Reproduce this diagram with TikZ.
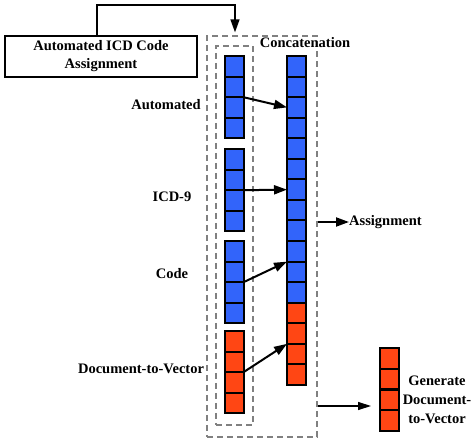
\documentclass[tikz,border=0pt]{standalone}
\usepackage{fontspec}
\setmainfont{Liberation Serif}
\usetikzlibrary{arrows.meta,calc}
\definecolor{cellblue}{RGB}{50,100,250}
\definecolor{cellorange}{RGB}{255,70,20}
\tikzset{
    cell/.style={
        draw=black,
        line width=2pt,
        minimum width=19pt,
        minimum height=20.6pt,
        inner sep=0pt,
        outer sep=0pt
    },
    bluecell/.style={cell, fill=cellblue},
    orangecell/.style={cell, fill=cellorange},
    dashbox/.style={
        draw=gray,
        line width=1.3pt,
        dash pattern=on 6pt off 4pt,
        inner sep=0pt
    },
    lbl/.style={
        font=\bfseries\fontsize{14.5}{17}\selectfont,
        inner sep=0pt,
        align=center
    },
    arr/.style={
        -{Triangle[length=13pt,width=9pt]},
        line width=2pt
    },
    thinarr/.style={
        -{Triangle[length=13pt,width=8pt]},
        line width=1.3pt
    }
}

\begin{document}
\begin{tikzpicture}[x=1pt,y=-1pt]
            \useasboundingbox (0,0) rectangle (474,443);
            % dashed frames
            \node[dashbox, minimum width=110pt, minimum height=401pt] (concat) at (262,236.5) {};
            \node[dashbox, minimum width=37pt, minimum height=379pt] (inner) at (234.5,235.5) {};
            \node[lbl] (cattext) at (305,43) {Concatenation};
            % top box
            \node[draw, line width=1.4pt, minimum width=192pt, minimum height=41pt,
                lbl, font=\bfseries\fontsize{14.5}{18}\selectfont] (topbox) at (101,56.5)
                {Automated ICD Code\\Assignment};
            \coordinate (fb) at (235,5);
            \draw[arr, line width=1.4pt, shorten >=3pt] ([xshift=-4pt]topbox.north) |- (fb) -- (fb |- concat.north);
            % word columns
            \foreach \col/\top/\sty in {a/56/bluecell, b/149/bluecell, c/241/bluecell, d/331/orangecell}{
                \foreach \i in {1,...,4}{
                    \node[\sty] (\col\i) at (234, \top+\i*20.6-10.3) {};
                }
            }
            % concatenated column
            \foreach \i in {1,...,16}{
                \ifnum\i<13
                    \node[bluecell] (cat\i) at (296.5, 56+\i*20.56-10.28) {};
                \else
                    \node[orangecell] (cat\i) at (296.5, 56+\i*20.56-10.28) {};
                \fi
            }
            % generated column
            \foreach \i in {1,...,4}{
                \node[orangecell] (g\i) at (389.5, 348+\i*20.75-10.375) {};
            }
            % labels
            \node[lbl] (lauto) at (166,105) {Automated};
            \node[lbl] (licd) at (172,197) {ICD-9};
            \node[lbl] (lcode) at (172,274) {Code};
            \node[lbl] (ldoc) at (141,369) {Document-to-Vector};
            \node[lbl, anchor=west] (assign) at (349,222) {Assignment};
            \node[lbl, font=\bfseries\fontsize{14.5}{19}\selectfont] (gen) at (437,400) {Generate\\Document-\\to-Vector};
            % arrows
            \draw[arr] (a2.south east) -- (cat3.west);
            \draw[arr] (b2.south east) -- (cat7.west);
            \draw[arr] (c2.south east) -- (cat10.south west);
            \draw[arr] (d2.south east) -- (cat14.south west);
            \draw[arr] (assign.west -| concat.east) -- (assign.west);
            \coordinate (gin) at (371,406);
            \draw[thinarr] (gin -| concat.east) -- (gin);
        \end{tikzpicture}
\end{document}
